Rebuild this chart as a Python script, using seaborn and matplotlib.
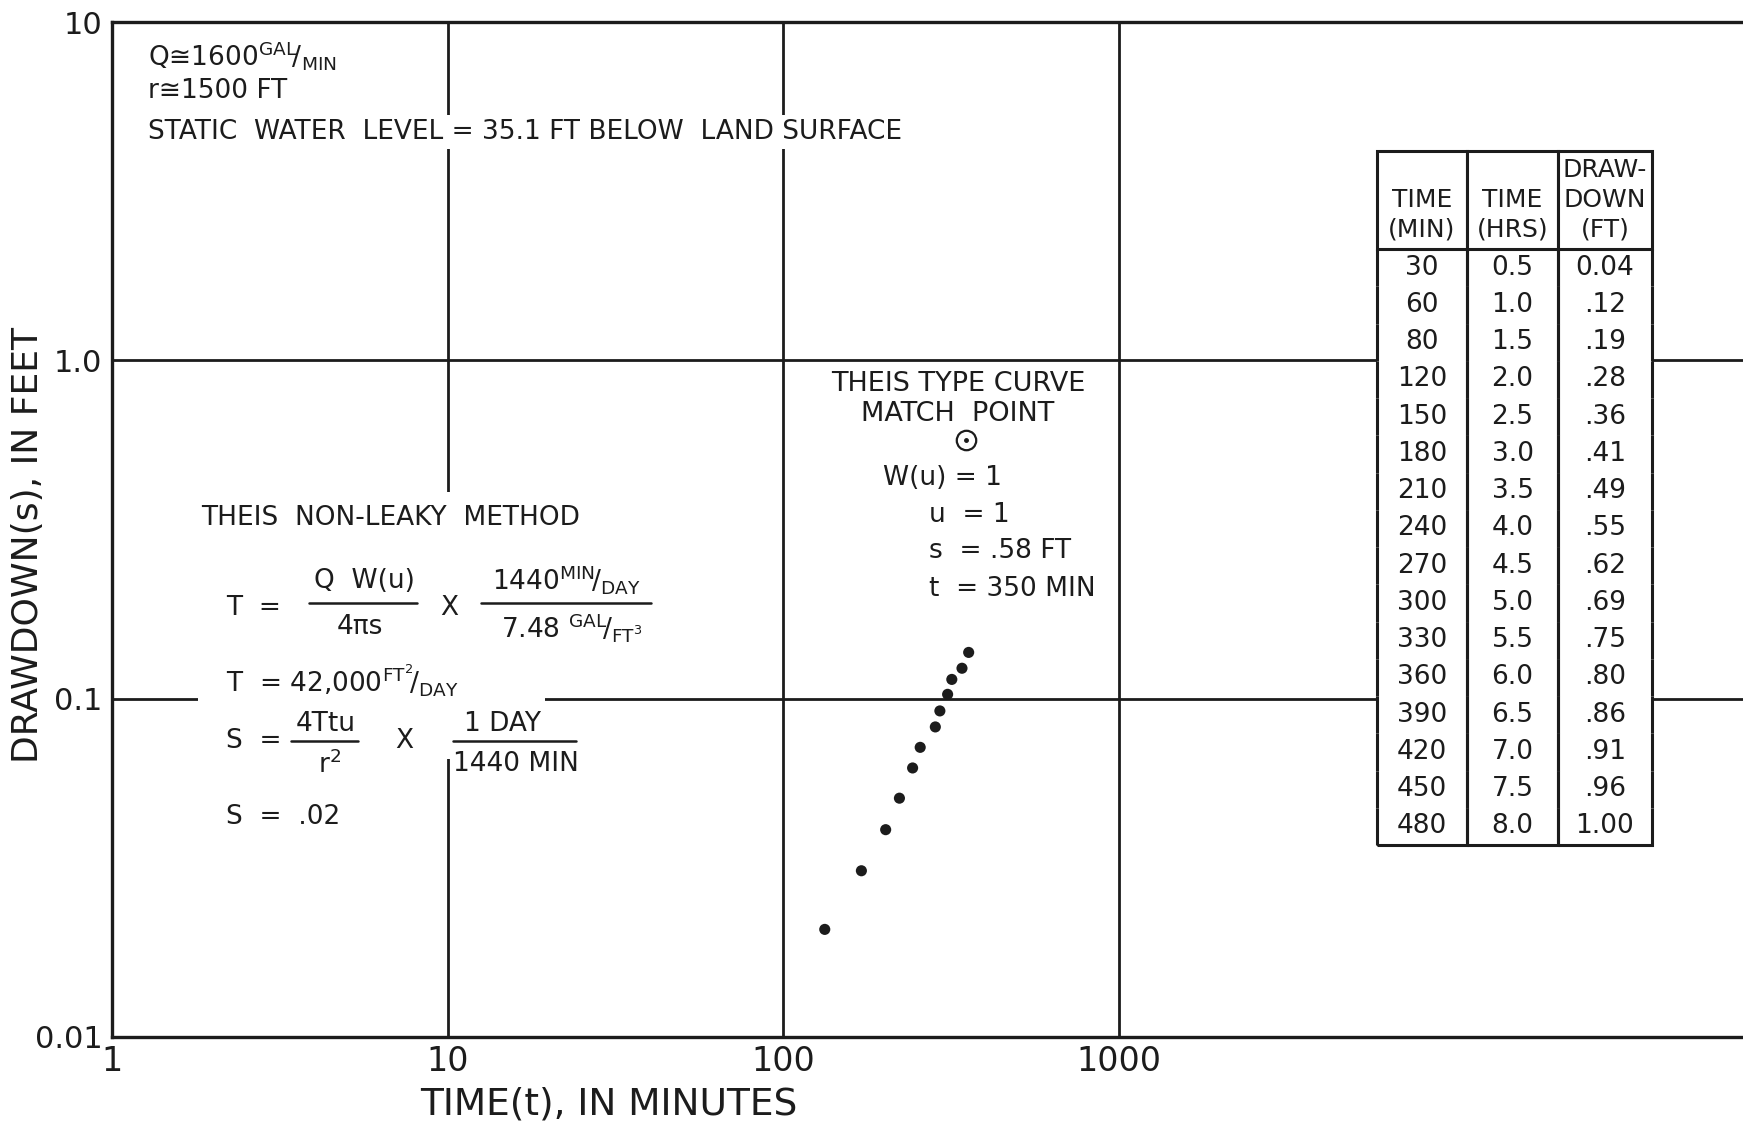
import matplotlib.pyplot as plt
import seaborn as sns
from matplotlib.lines import Line2D
from matplotlib.patches import Rectangle
from matplotlib.ticker import NullLocator


# Data
obs_time = [133, 171, 202, 222, 243, 256, 284, 293, 309, 318, 341, 357]
obs_drawdown = [0.0208, 0.031, 0.041, 0.0508, 0.0624, 0.0718, 0.0825,
                0.092, 0.103, 0.114, 0.123, 0.137]

match_time = [350]
match_drawdown = [0.58]

x_ticks = [1, 10, 100, 1000]
x_tick_labels = ['1', '10', '100', '1000']
y_ticks = [0.01, 0.1, 1.0, 10]
y_tick_labels = ['0.01', '0.1', '1.0', '10']

table_header = ['\nTIME\n(MIN)', '\nTIME\n(HRS)', 'DRAW-\nDOWN\n(FT)']
table_min = ['30', '60', '80', '120', '150', '180', '210', '240',
             '270', '300', '330', '360', '390', '420', '450', '480']
table_hrs = ['0.5', '1.0', '1.5', '2.0', '2.5', '3.0', '3.5', '4.0',
             '4.5', '5.0', '5.5', '6.0', '6.5', '7.0', '7.5', '8.0']
table_dd = ['0.04', '.12', '.19', '.28', '.36', '.41', '.49', '.55',
            '.62', '.69', '.75', '.80', '.86', '.91', '.96', '1.00']


# Style
sns.set_style('white')
plt.rcParams['font.family'] = ['DejaVu Sans']
plt.rcParams['mathtext.default'] = 'regular'
INK = '#1c1c1c'
TXT = 19

W, H = 1743, 1124
fig = plt.figure(figsize=(W / 100, H / 100), dpi=100)


def fx(px):
    return px / W


def fy(py):
    return 1 - py / H


def put(px, py, s, size=TXT, ha='left', **kw):
    fig.text(fx(px), fy(py), s, fontsize=size, ha=ha, va='center',
             color=INK, zorder=4, **kw)


def bar(x0, x1, py):
    fig.add_artist(Line2D([fx(x0), fx(x1)], [fy(py), fy(py)],
                          transform=fig.transFigure, color=INK, lw=1.8,
                          zorder=4))


ax_l, ax_r, ax_t, ax_b = 112, 1743, 22, 1037
ax = fig.add_axes([fx(ax_l), fy(ax_b), fx(ax_r) - fx(ax_l), fy(ax_t) - fy(ax_b)])


def axx(px):
    return (px - ax_l) / (ax_r - ax_l)


def axy(py):
    return (ax_b - py) / (ax_b - ax_t)


# Observed points and match point
sns.scatterplot(x=obs_time, y=obs_drawdown, ax=ax, color=INK, s=64,
                edgecolor='none', zorder=6)
ax.plot(match_time, match_drawdown, marker='o', ms=14, mfc='white',
        mec=INK, mew=1.6, ls='none', zorder=6)
ax.plot(match_time, match_drawdown, marker='o', ms=2.5, color=INK,
        ls='none', zorder=7)

ax.set_xscale('log')
ax.set_yscale('log')
ax.set_xlim(1, 10 ** 4.86)
ax.set_ylim(0.01, 10)
ax.set_xticks(x_ticks, x_tick_labels)
ax.set_yticks(y_ticks, y_tick_labels)
ax.xaxis.set_minor_locator(NullLocator())
ax.yaxis.set_minor_locator(NullLocator())
ax.tick_params(axis='x', length=0, labelsize=24, pad=6, colors=INK)
ax.tick_params(axis='y', length=0, labelsize=22, pad=7, colors=INK)

ax.grid(True, color=INK, lw=2.0)
ax.set_axisbelow(True)
for side in ['left', 'bottom', 'top']:
    ax.spines[side].set_linewidth(2.4)
    ax.spines[side].set_color(INK)
ax.spines['right'].set_visible(False)

ax.set_xlabel('TIME(t), IN MINUTES', fontsize=27, color=INK)
ax.set_ylabel('DRAWDOWN(s), IN FEET', fontsize=26, color=INK)
ax.xaxis.set_label_coords(axx(609), axy(1087))
ax.yaxis.set_label_coords(axx(45), axy(545))

# Data table
cell_text = [[m, h, d] for m, h, d in zip(table_min, table_hrs, table_dd)]
tx0, tx1, ty0, ty1 = 1377, 1652, 151, 845
tbox = [axx(tx0), axy(ty1), axx(tx1) - axx(tx0), axy(ty0) - axy(ty1)]
ax.add_patch(Rectangle((tbox[0], tbox[1]), tbox[2], tbox[3],
                       transform=ax.transAxes, fc='white', ec='none', zorder=4))
tab = ax.table(cellText=cell_text, colLabels=table_header,
               colWidths=[90, 91, 94], cellLoc='center', bbox=tbox)
tab.auto_set_font_size(False)
tab.set_zorder(5)
n_rows = len(cell_text)
for (r, c), cell in tab.get_celld().items():
    cell.set_edgecolor(INK)
    cell.set_linewidth(2.2)
    cell.set_facecolor('white')
    txt = cell.get_text()
    txt.set_color(INK)
    if r == 0:
        cell.visible_edges = 'closed'
        cell.set_height(cell.get_height() * 98 / 37.25)
        txt.set_fontsize(18)
        txt.set_linespacing(1.3)
    else:
        cell.visible_edges = 'BLR' if r == n_rows else 'LR'
        txt.set_fontsize(19)

# Well info
put(148, 56, 'Q≅1600$^{GAL}\\!/_{MIN}$')
put(148, 91, 'r≅1500 FT')
put(148, 132, 'STATIC  WATER  LEVEL = 35.1 FT BELOW  LAND SURFACE',
    bbox=dict(fc='white', ec='none', pad=3))

# Theis method block (blanks the grid lines behind it)
fig.add_artist(Rectangle((fx(198), fy(759)), fx(545) - fx(198), fy(492) - fy(759),
                         transform=fig.transFigure, fc='white', ec='none', zorder=1))
put(201, 518, 'THEIS  NON-LEAKY  METHOD')
put(226, 608, 'T  =')
put(364, 581, 'Q  W(u)', ha='center')
bar(309, 417, 603)
put(360, 627, '4πs', ha='center')
put(449, 608, 'X', ha='center')
put(566, 579, '1440$^{MIN}\\!/_{DAY}$', ha='center')
bar(481, 651, 603)
put(572, 627, '7.48 $^{GAL}\\!/_{FT^3}$', ha='center')
put(226, 681, 'T  = 42,000$^{FT^2}\\!/_{DAY}$')
put(226, 741, 'S  =')
put(326, 724, '4Ttu', ha='center')
bar(291, 358, 741)
put(330, 765, 'r$^2$', ha='center')
put(404, 741, 'X', ha='center')
put(503, 724, '1 DAY', ha='center')
bar(453, 576, 741)
put(516, 764, '1440 MIN', ha='center')
put(226, 817, 'S  =  .02')

# Match point block
put(958, 384, 'THEIS TYPE CURVE', ha='center', size=19.5)
put(958, 414, 'MATCH  POINT', ha='center', size=19.5)
put(883, 478, 'W(u) = 1')
put(929, 515, 'u  = 1')
put(929, 551, 's  = .58 FT')
put(929, 589, 't  = 350 MIN')

fig.savefig('out.png', dpi=100, facecolor='white')
